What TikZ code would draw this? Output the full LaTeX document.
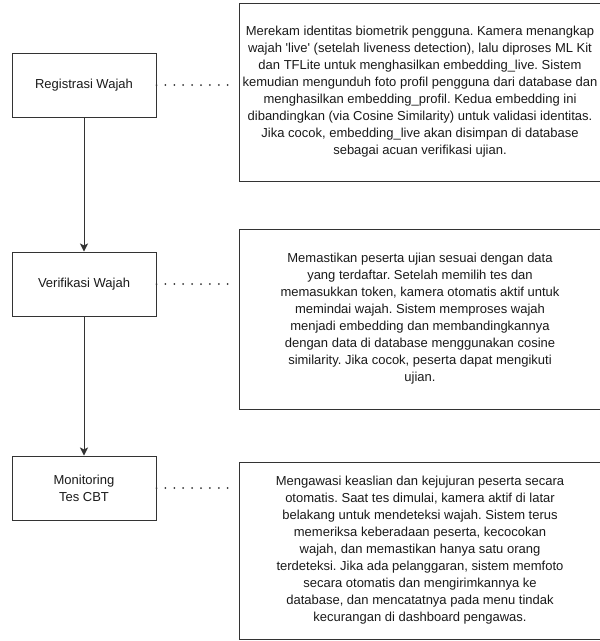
\documentclass[tikz,border=0pt]{standalone}
\usepackage{fontspec}
\setmainfont{Liberation Sans}
\frenchspacing
\usetikzlibrary{arrows.meta,positioning}
\definecolor{edgegray}{HTML}{333333}
\definecolor{textgray}{HTML}{1A1A1A}
\tikzset{
  stage/.style={draw=edgegray,line width=1pt,fill=white,align=center,text=textgray,font=\fontsize{13}{17}\selectfont,minimum width=144pt,minimum height=64pt,inner sep=2pt},
  note/.style={draw=edgegray,line width=1pt,fill=white,align=center,text=textgray,font=\fontsize{13}{17}\selectfont,minimum width=362pt,inner sep=0pt},
  flow/.style={-{Stealth[length=8pt,width=8pt,inset=2pt]},draw=edgegray,line width=1pt},
  dotlink/.style={draw=edgegray,line width=2pt,line cap=round,dash pattern=on 0pt off 8.9pt,shorten >=2pt},
}

\begin{document}
\begin{tikzpicture}[x=1pt,y=-1pt]
    \useasboundingbox (0,0) rectangle (600,641);
    \node[stage] (reg) at (84,85) {Registrasi Wajah};
    \node[stage,below=134pt of reg] (ver) {Verifikasi Wajah};
    \node[stage,below=139pt of ver] (mon) {Monitoring\\Tes CBT};
    \node[note,minimum height=178pt] (regnote) at (420,92) {Merekam identitas biometrik pengguna. Kamera menangkap\\wajah \textquotesingle live\textquotesingle{} (setelah liveness detection), lalu diproses ML Kit\\dan TFLite untuk menghasilkan embedding\_live. Sistem\\kemudian mengunduh foto profil pengguna dari database dan\\menghasilkan embedding\_profil. Kedua embedding ini\\dibandingkan (via Cosine Similarity) untuk validasi identitas.\\Jika cocok, embedding\_live akan disimpan di database\\sebagai acuan verifikasi ujian.};
    \node[note,minimum height=180pt] (vernote) at (420,319) {Memastikan peserta ujian sesuai dengan data\\yang terdaftar. Setelah memilih tes dan\\memasukkan token, kamera otomatis aktif untuk\\memindai wajah. Sistem memproses wajah\\menjadi embedding dan membandingkannya\\dengan data di database menggunakan cosine\\similarity. Jika cocok, peserta dapat mengikuti\\ujian.};
    \node[note,minimum height=177pt] (monnote) at (420,550.5) {Mengawasi keaslian dan kejujuran peserta secara\\otomatis. Saat tes dimulai, kamera aktif di latar\\belakang untuk mendeteksi wajah. Sistem terus\\memeriksa keberadaan peserta, kecocokan\\wajah, dan memastikan hanya satu orang\\terdeteksi. Jika ada pelanggaran, sistem memfoto\\secara otomatis dan mengirimkannya ke\\database, dan mencatatnya pada menu tindak\\kecurangan di dashboard pengawas.};
    \draw[flow] (reg) -- (ver);
    \draw[flow] (ver) -- (mon);
    \draw[dotlink] (reg.east) -- (reg.east -| regnote.west);
    \draw[dotlink] (ver.east) -- (ver.east -| vernote.west);
    \draw[dotlink] (mon.east) -- (mon.east -| monnote.west);
  \end{tikzpicture}
\end{document}
